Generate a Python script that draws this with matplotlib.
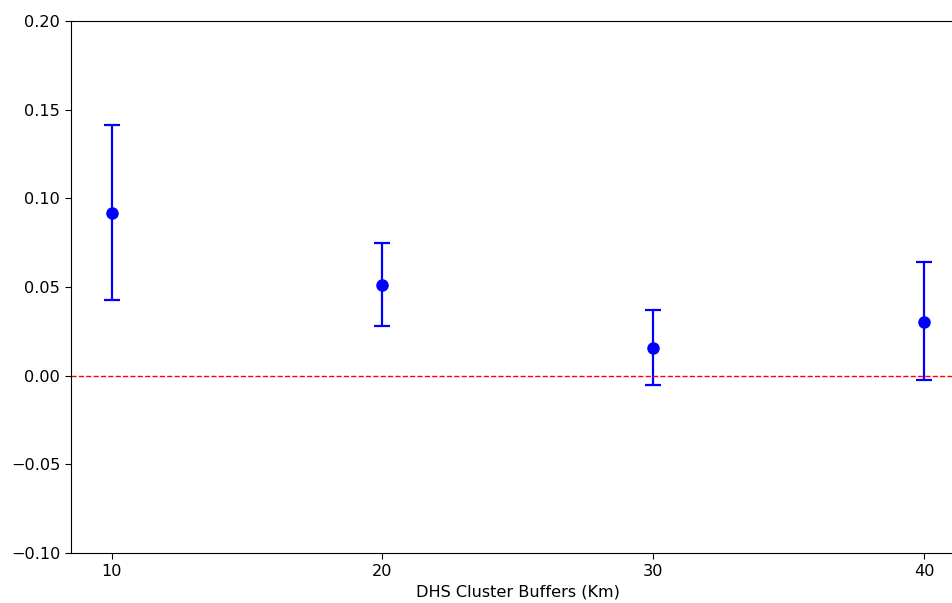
import matplotlib
matplotlib.use("Agg")
from matplotlib import pyplot as plt

# buffer sizes and estimated coefficients with confidence bounds
buffers = [10, 20, 30, 40]
coef = [0.0919, 0.0513, 0.0158, 0.0305]
upper = [0.1412, 0.0750, 0.0369, 0.0640]
lower = [0.0424, 0.0278, -0.0054, -0.0026]

err_low = [c - l for c, l in zip(coef, lower)]
err_high = [u - c for u, c in zip(upper, coef)]

plt.rcParams["font.size"] = 11.6

fig = plt.figure(figsize=(9.53, 6.03), dpi=100)
# right edge of the axes sits just outside the picture, as in the original
ax = fig.add_axes([71 / 953, 1 - 553 / 603, (964.6 - 71) / 953, 532 / 603])

ax.errorbar(buffers, coef, yerr=[err_low, err_high], fmt="o", color="blue",
            markersize=8, elinewidth=1.6, capsize=6, capthick=1.6)
ax.axhline(0, color="red", linestyle="--", linewidth=1)

ax.set_ylim(-0.10, 0.20)
ax.set_xticks(buffers)
ax.tick_params(length=4.2)
ax.set_xlabel("DHS Cluster Buffers (Km)", labelpad=4)

fig.savefig("out.png", dpi=100)
